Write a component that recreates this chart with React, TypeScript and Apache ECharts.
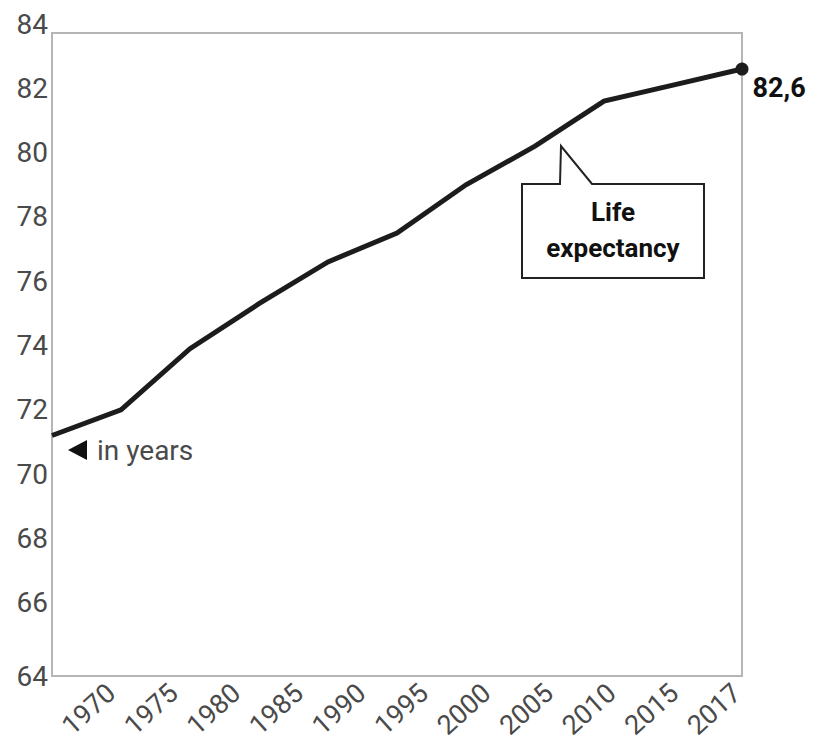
import React, { useEffect, useRef } from "react";
import * as echarts from "echarts";

const years = ["1970", "1975", "1980", "1985", "1990", "1995", "2000", "2005", "2010", "2015", "2017"];
const lifeExpectancy = [71.2, 72.0, 73.9, 75.3, 76.6, 77.5, 79.0, 80.2, 81.6, 82.1, 82.6];
const yTickMin = 64;
const yTickMax = 84;
const yTickStep = 2;
const seriesName = "Life expectancy";
const unitNote = "in years";

const FONT = "Roboto, 'Noto Sans', sans-serif";
const GREY = "#4a4a4a";
const INK = "#1c1c1c";

export default function App() {
  const ref = useRef<HTMLDivElement>(null);

  useEffect(() => {
    if (!ref.current) return;
    const chart = echarts.init(ref.current, undefined, { renderer: "svg" });
    const last = lifeExpectancy.length - 1;
    const lineData = lifeExpectancy.map((v, i) =>
      i === last
        ? {
            value: v,
            symbol: "circle",
            symbolSize: 13,
            label: {
              show: true,
              position: "right",
              distance: 4,
              offset: [0, 19],
              formatter: String(v).replace(".", ","),
              fontFamily: FONT,
              fontSize: 27,
              fontWeight: "bold",
              color: "#111",
            },
          }
        : { value: v, symbol: "none" }
    );

    const yLabelStyle = { fontFamily: FONT, fontSize: 28, color: GREY };

    chart.setOption({
      animation: false,
      backgroundColor: "#ffffff",
      grid: [
        {
          left: 52,
          top: 33,
          width: 690,
          height: 643,
          containLabel: false,
          outerBoundsMode: "none",
          show: true,
          borderColor: "#b5b5b5",
          borderWidth: 2,
          backgroundColor: "transparent",
        },
        {
          left: 80,
          top: 24,
          width: 688,
          height: 643,
          containLabel: false,
          outerBoundsMode: "none",
          show: false,
        },
      ],
      xAxis: [
        {
          gridIndex: 0,
          type: "category",
          data: years,
          boundaryGap: false,
          axisLine: { show: false },
          axisTick: { show: false },
          axisLabel: { show: false },
          splitLine: { show: false },
        },
        {
          gridIndex: 1,
          type: "category",
          data: years,
          boundaryGap: true,
          axisLine: { show: false },
          axisTick: { show: false },
          splitLine: { show: false },
          axisLabel: {
            interval: 0,
            rotate: 42,
            margin: 22,
            fontFamily: FONT,
            fontSize: 27,
            color: GREY,
          },
        },
      ],
      yAxis: [
        {
          gridIndex: 0,
          type: "value",
          min: 63.72,
          max: 83.72,
          position: "left",
          axisLine: { show: false },
          axisTick: { show: false },
          axisLabel: { show: false },
          splitLine: { show: false },
        },
        {
          gridIndex: 1,
          type: "value",
          min: yTickMin,
          max: yTickMax,
          interval: yTickStep,
          position: "left",
          axisLine: { show: false },
          axisTick: { show: false },
          splitLine: { show: false },
          axisLabel: {
            ...yLabelStyle,
            margin: 32,
            formatter: (v: number) => (v === yTickMin ? "" : String(v)),
          },
        },
        {
          gridIndex: 0,
          type: "value",
          min: yTickMin,
          max: yTickMax,
          interval: yTickStep,
          position: "left",
          offset: 0,
          axisLine: { show: false },
          axisTick: { show: false },
          splitLine: { show: false },
          axisLabel: {
            ...yLabelStyle,
            margin: 4,
            formatter: (v: number) => (v === yTickMin ? String(v) : ""),
          },
        },
      ],
      series: [
        {
          name: seriesName,
          type: "line",
          xAxisIndex: 0,
          yAxisIndex: 0,
          data: lineData,
          showSymbol: true,
          showAllSymbol: true,
          clip: false,
          lineStyle: { color: INK, width: 5, join: "miter" },
          itemStyle: { color: INK },
          emphasis: { disabled: true },
          z: 5,
        },
      ],
      graphic: [
        {
          type: "polygon",
          shape: {
            points: [
              [522, 184],
              [560, 184],
              [561, 146],
              [592, 184],
              [704, 184],
              [704, 278],
              [522, 278],
            ],
          },
          style: { fill: "#ffffff", stroke: "#222", lineWidth: 2 },
          z: 10,
        },
        {
          type: "text",
          x: 613,
          y: 230,
          style: {
            text: "Life\nexpectancy",
            align: "center",
            verticalAlign: "middle",
            fontFamily: FONT,
            fontSize: 26,
            fontWeight: "bold",
            lineHeight: 36,
            fill: "#111",
          },
          z: 11,
        },
        {
          type: "polygon",
          shape: {
            points: [
              [68, 450],
              [87, 440],
              [87, 460],
            ],
          },
          style: { fill: "#111" },
          z: 10,
        },
        {
          type: "text",
          x: 97,
          y: 450,
          style: {
            text: unitNote,
            align: "left",
            verticalAlign: "middle",
            fontFamily: FONT,
            fontSize: 28,
            fill: GREY,
          },
          z: 10,
        },
      ],
    });

    return () => chart.dispose();
  }, []);

  return (
    <div
      ref={ref}
      style={{ position: "fixed", left: 0, top: 0, width: 818, height: 747, background: "#fff" }}
    />
  );
}
